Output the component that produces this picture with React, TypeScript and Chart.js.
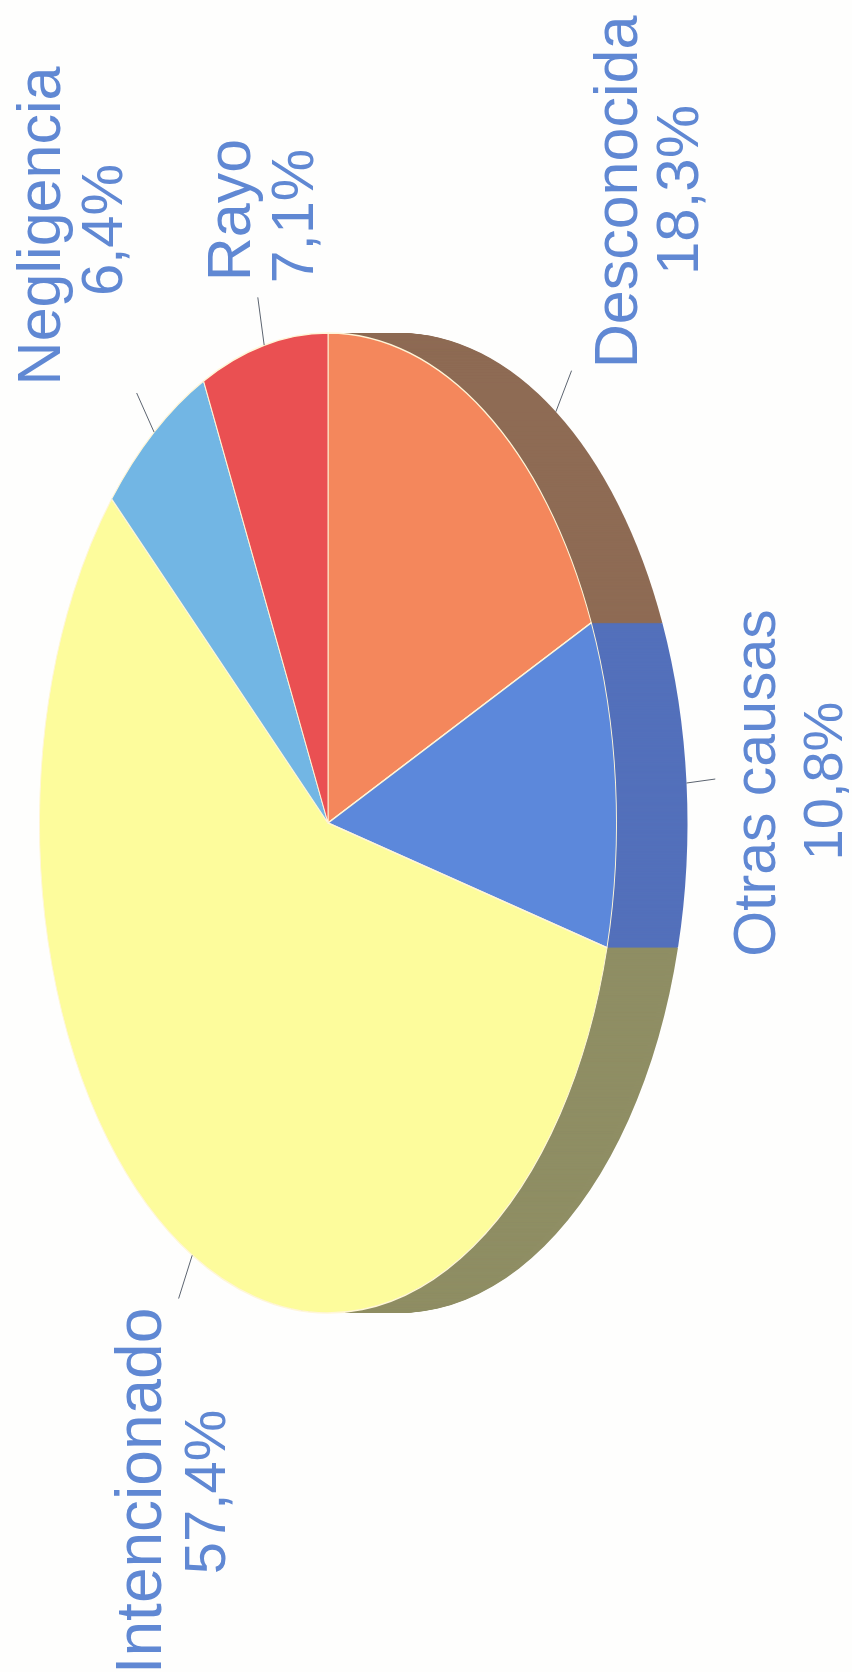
import React, { useEffect, useRef } from "react";
import { Chart, registerables } from "chart.js";

Chart.register(...registerables);

// Data, in drawing order clockwise from the top of the ellipse
const categories = ["Desconocida", "Otras causas", "Intencionado", "Negligencia", "Rayo"];
const shares = [18.3, 10.8, 57.4, 6.4, 7.1];
const topColors = ["#F4875C", "#5C88DB", "#FDFC9C", "#72B6E4", "#EA5052"];
const wallColors = ["#8E6B54", "#5370BB", null, null, null] as (string | null)[];
const backWallColors = [null, null, "#8F8E64", null, null] as (string | null)[];

// Layout of the photographed (tilted, turned) pie
const CANVAS_W = 852;
const CANVAS_H = 1672;
const CENTER_X = 328;
const CENTER_Y = 823;
const RADIUS_Y = 490;
const RADIUS_X = 288.5;
const DEPTH = 71;
const LEADER_FACTOR = 1.1;
const FONT_FAMILY = '"Liberation Sans", Arial, sans-serif';
const TEXT_COLOR = "#6088D3";
const LEADER_COLOR = "#5C6470";

// Baselines (x), centres (y) and sizes for the turned labels
const nameBaselineX = [637, 775, 161, 60, 250];
const nameCentreY = [192, 783, 1491, 226, 210];
const nameFontPx = [61, 59, 64, 61, 61];
const valueBaselineX = [698, 842, 225, 122, 313];
const valueCentreY = [190, 781, 1492, 230, 216];
const valueFontPx = [60, 56, 58, 58, 59];
const leaderOnWall = [true, true, false, false, false];

const squash = RADIUS_X / RADIUS_Y;

function applySquash(ctx: CanvasRenderingContext2D, cx: number, cy: number, dx = 0) {
  ctx.translate(cx + dx, cy);
  ctx.scale(squash, 1);
  ctx.translate(-cx, -cy);
}

const tiltedPie = {
  id: "tiltedPie",
  beforeDatasetsDraw(chart: any) {
    const ctx: CanvasRenderingContext2D = chart.ctx;
    const arcs = chart.getDatasetMeta(0).data;
    // side wall: sweep the library's own arcs sideways
    for (const colors of [backWallColors, wallColors]) {
      arcs.forEach((arc: any, i: number) => {
        const fill = colors[i];
        if (!fill) return;
        const original = arc.options;
        arc.options = { ...original, backgroundColor: fill, borderWidth: 0 };
        for (let d = DEPTH; d >= 1; d--) {
          ctx.save();
          applySquash(ctx, arc.x, arc.y, d);
          arc.draw(ctx);
          ctx.restore();
        }
        arc.options = original;
      });
    }
    ctx.save();
    applySquash(ctx, arcs[0].x, arcs[0].y);
  },
  afterDatasetsDraw(chart: any) {
    const ctx: CanvasRenderingContext2D = chart.ctx;
    ctx.restore();
    const arcs = chart.getDatasetMeta(0).data;
    // leader lines follow each slice's mid angle
    ctx.strokeStyle = LEADER_COLOR;
    ctx.lineWidth = 1;
    arcs.forEach((arc: any, i: number) => {
      const mid = (arc.startAngle + arc.endAngle) / 2;
      const ox = Math.cos(mid) * arc.outerRadius * squash;
      const oy = Math.sin(mid) * arc.outerRadius;
      const shift = leaderOnWall[i] ? DEPTH : 0;
      ctx.beginPath();
      ctx.moveTo(arc.x + ox + shift, arc.y + oy);
      ctx.lineTo(arc.x + ox * LEADER_FACTOR + shift, arc.y + oy * LEADER_FACTOR);
      ctx.stroke();
    });
    // turned labels, slightly soft like the scan
    ctx.fillStyle = TEXT_COLOR;
    ctx.textAlign = "center";
    ctx.textBaseline = "alphabetic";
    const put = (text: string, x: number, y: number, px: number) => {
      ctx.save();
      ctx.filter = "blur(0.5px)";
      ctx.font = `${px}px ${FONT_FAMILY}`;
      ctx.translate(x, y);
      ctx.rotate(-Math.PI / 2);
      ctx.fillText(text, 0, 0);
      ctx.restore();
    };
    categories.forEach((name, i) => {
      put(name, nameBaselineX[i], nameCentreY[i], nameFontPx[i]);
      put(String(shares[i]).replace(".", ",") + "%", valueBaselineX[i], valueCentreY[i], valueFontPx[i]);
    });
  },
};

export default function App() {
  const ref = useRef<HTMLCanvasElement | null>(null);
  useEffect(() => {
    if (!ref.current) return;
    const chart = new Chart(ref.current, {
      type: "pie",
      data: {
        labels: categories,
        datasets: [
          {
            data: shares,
            backgroundColor: topColors,
            borderColor: "#FFF6D8",
            borderWidth: 1.6,
            clip: false,
          } as any,
        ],
      },
      options: {
        animation: false,
        responsive: false,
        radius: RADIUS_Y,
        layout: {
          padding: {
            right: CANVAS_W - 2 * CENTER_X,
            bottom: CANVAS_H - 2 * CENTER_Y,
          },
        },
        plugins: { legend: { display: false }, tooltip: { enabled: false } },
      } as any,
      plugins: [tiltedPie],
    });
    return () => chart.destroy();
  }, []);
  return (
    <div style={{ position: "absolute", left: 0, top: 0, width: CANVAS_W, height: CANVAS_H, background: "#FEFEFD", overflow: "hidden" }}>
      <canvas ref={ref} width={CANVAS_W} height={CANVAS_H} style={{ display: "block" }} />
    </div>
  );
}
